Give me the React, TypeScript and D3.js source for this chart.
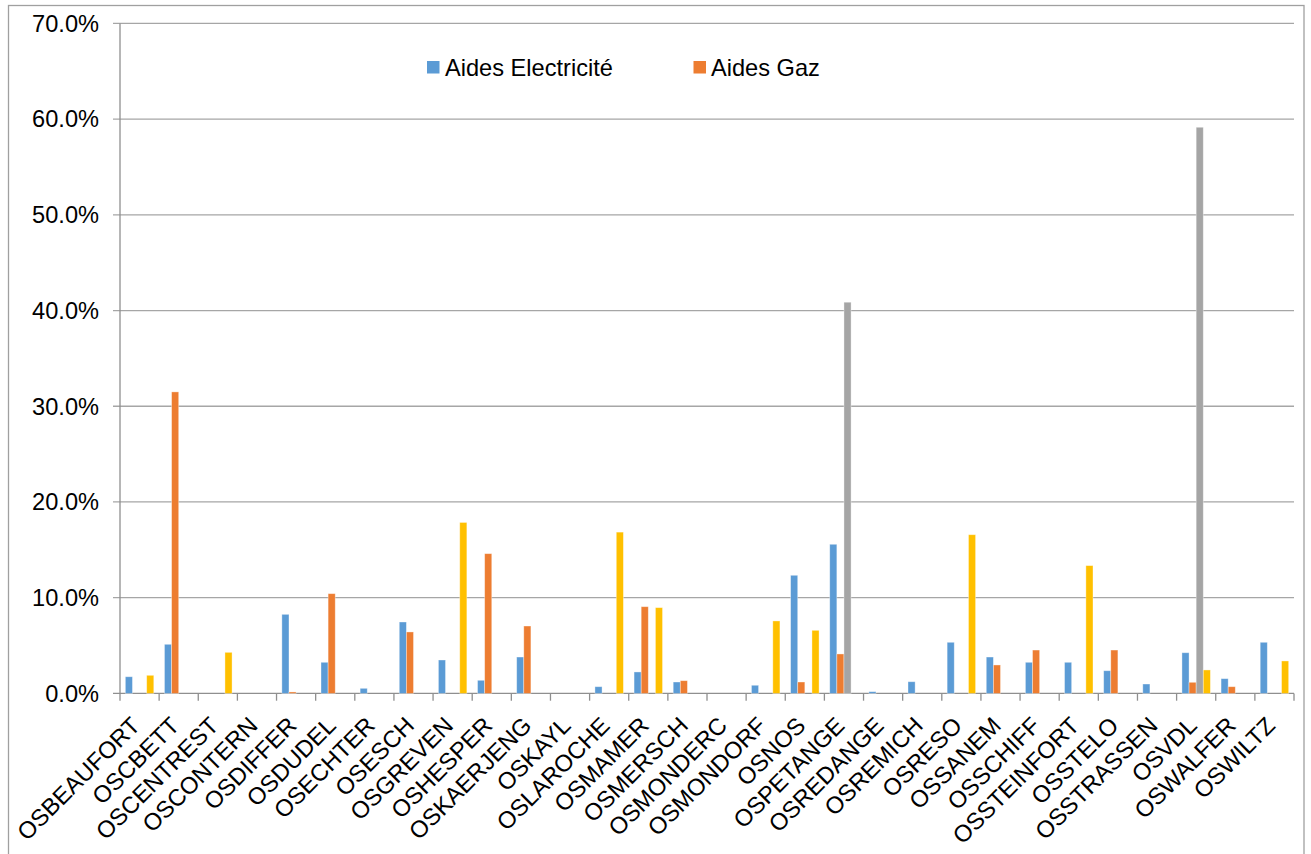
import React from "react";
import * as d3 from "d3";

// Offices (catégories de l'axe X)
const categories = [
  "OSBEAUFORT", "OSCBETT", "OSCENTREST", "OSCONTERN", "OSDIFFER", "OSDUDEL",
  "OSECHTER", "OSESCH", "OSGREVEN", "OSHESPER", "OSKAERJENG", "OSKAYL",
  "OSLAROCHE", "OSMAMER", "OSMERSCH", "OSMONDERC", "OSMONDORF", "OSNOS",
  "OSPETANGE", "OSREDANGE", "OSREMICH", "OSRESO", "OSSANEM", "OSSCHIFF",
  "OSSTEINFORT", "OSSTELO", "OSSTRASSEN", "OSVDL", "OSWALFER", "OSWILTZ",
];

// Parts en pourcentage par office
const aidesElectricite = [
  1.74, 5.13, 0, 0, 8.26, 3.25, 0.53, 7.46, 3.49, 1.37, 3.8, 0, 0.7, 2.24, 1.19,
  0, 0.85, 12.34, 15.58, 0.18, 1.22, 5.34, 3.8, 3.25, 3.25, 2.37, 0.98, 4.25, 1.54, 5.34,
];
const aidesGaz = [
  0, 31.5, 0, 0, 0.15, 10.42, 0, 6.42, 0, 14.6, 7.04, 0, 0, 9.06, 1.33,
  0, 0, 1.19, 4.12, 0, 0, 0, 2.97, 4.53, 0, 4.53, 0, 1.16, 0.7, 0,
];
const serie3 = [
  0, 0, 0, 0, 0, 0, 0, 0, 0, 0, 0, 0, 0, 0, 0,
  0, 0, 0, 40.87, 0, 0, 0, 0, 0, 0, 0, 0, 59.15, 0, 0,
];
const serie4 = [
  1.89, 0, 4.29, 0, 0, 0, 0, 0, 17.86, 0, 0, 0, 16.85, 8.96, 0,
  0, 7.57, 6.59, 0, 0, 0, 16.58, 0, 0, 13.35, 0, 0, 2.45, 0, 3.39,
];

const yTicks = [0, 10, 20, 30, 40, 50, 60, 70];

const seriesList = [
  { name: "Aides Electricité", values: aidesElectricite, color: "#5b9bd5" },
  { name: "Aides Gaz", values: aidesGaz, color: "#ed7d31" },
  { name: "", values: serie3, color: "#a5a5a5" },
  { name: "", values: serie4, color: "#ffc000" },
];

const W = 1311;
const H = 854;
const FONT = "'Liberation Sans', Arial, sans-serif";
const FS = 23.6;

export default function App() {
  const left = 120;
  const right = 1294;
  const top = 23.4;
  const bottom = 693.4;

  const x = d3.scaleBand<string>().domain(categories).range([left, right]).padding(0);
  const y = d3.scaleLinear().domain([0, 70]).range([bottom, top]);

  const step = x.bandwidth();
  // 4 séries, largeur d'intervalle 150 %
  const barW = step / (4 + 1.5);
  const inner = d3
    .scaleBand<number>()
    .domain([0, 1, 2, 3])
    .range([barW * 0.75, barW * 0.75 + barW * 4])
    .padding(0);

  const gridColor = "#a6a6a6";
  const axisColor = "#8f8f8f";

  return (
    <svg
      width={W}
      height={H}
      style={{ position: "absolute", left: 0, top: 0, background: "#fff" }}
      fontFamily={FONT}
    >
      <rect x={0} y={0} width={W} height={H} fill="#fff" />
      <rect x={8.5} y={5.5} width={1295.5} height={870} fill="none" stroke="#a0a0a0" strokeWidth={1.3} />

      {/* quadrillage horizontal */}
      {yTicks.map((t) => (
        <line
          key={"g" + t}
          x1={113}
          x2={right}
          y1={y(t)}
          y2={y(t)}
          stroke={t === 0 ? axisColor : gridColor}
          strokeWidth={1.3}
        />
      ))}

      {/* axe vertical */}
      <line x1={left} x2={left} y1={top} y2={bottom} stroke={axisColor} strokeWidth={1.3} />

      {/* graduations de l'axe X */}
      {d3.range(categories.length + 1).map((i) => {
        const xx = left + i * step;
        return (
          <line key={"t" + i} x1={xx} x2={xx} y1={bottom} y2={bottom + 7.3} stroke={axisColor} strokeWidth={1.3} />
        );
      })}

      {/* étiquettes de l'axe Y */}
      {yTicks.map((t) => (
        <text
          key={"yl" + t}
          x={99}
          y={y(t)}
          dy="0.35em"
          textAnchor="end"
          fontSize={FS}
          fill="#000"
        >
          {t.toFixed(1) + "%"}
        </text>
      ))}

      {/* barres */}
      {seriesList.map((s, si) =>
        s.values.map((v, ci) =>
          v > 0 ? (
            <rect
              key={si + "-" + ci}
              x={(x(categories[ci]) as number) + (inner(si) as number)}
              y={y(v)}
              width={inner.bandwidth()}
              height={y(0) - y(v)}
              fill={s.color}
              stroke="#ffffff"
              strokeOpacity={0.45}
              strokeWidth={0.8}
            />
          ) : null
        )
      )}

      {/* étiquettes de l'axe X */}
      {categories.map((c) => {
        const cx = (x(c) as number) + step / 2;
        return (
          <text
            key={"xl" + c}
            transform={`translate(${cx + 2},${727}) rotate(-45)`}
            textAnchor="end"
            fontSize={FS}
            fill="#000"
          >
            {c}
          </text>
        );
      })}

      {/* légende */}
      <rect x={427} y={61} width={12.5} height={12.5} fill={seriesList[0].color} />
      <text x={445} y={75.5} fontSize={FS} fill="#000">
        {seriesList[0].name}
      </text>
      <rect x={693.5} y={61} width={12.5} height={12.5} fill={seriesList[1].color} />
      <text x={711} y={75.5} fontSize={FS} fill="#000">
        {seriesList[1].name}
      </text>
    </svg>
  );
}
